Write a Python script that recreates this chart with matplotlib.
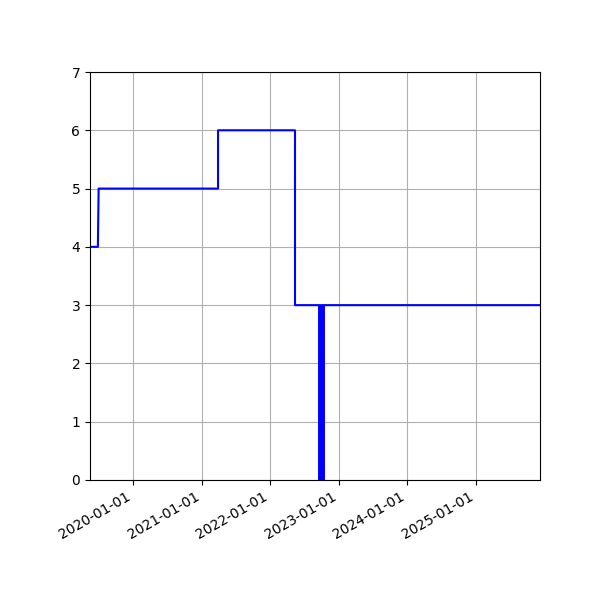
import matplotlib
matplotlib.use("Agg")
import matplotlib.pyplot as plt
import matplotlib.dates as mdates
import numpy as np

# step series: (date, value)
dates = ["2019-05-17", "2019-06-28", "2019-07-02", "2021-03-29", "2021-03-29",
         "2022-05-13", "2022-05-13", "2025-12-08"]
values = [4, 4, 5, 5, 6, 6, 3, 3]

# single event bar
event_date = ["2022-10-01"]
event_value = [3]

dates = np.array(dates, dtype="datetime64[D]")
event_date = np.array(event_date, dtype="datetime64[D]")

fig, ax = plt.subplots(figsize=(6, 6), dpi=100)
fig.subplots_adjust(left=0.15, right=0.9, bottom=0.2, top=0.88)

ax.plot(dates, values, color="blue", lw=1.5)
ax.vlines(event_date, 0, event_value, color="blue", lw=5)

ax.set_xlim(dates[0], dates[-1])
ax.set_ylim(0, 7)
ax.xaxis.set_major_locator(mdates.YearLocator())
ax.xaxis.set_major_formatter(mdates.DateFormatter("%Y-%m-%d"))
ax.grid(True)
for lbl in ax.get_xticklabels():
    lbl.set_rotation(30)
    lbl.set_ha("right")

plt.savefig("out.png")
